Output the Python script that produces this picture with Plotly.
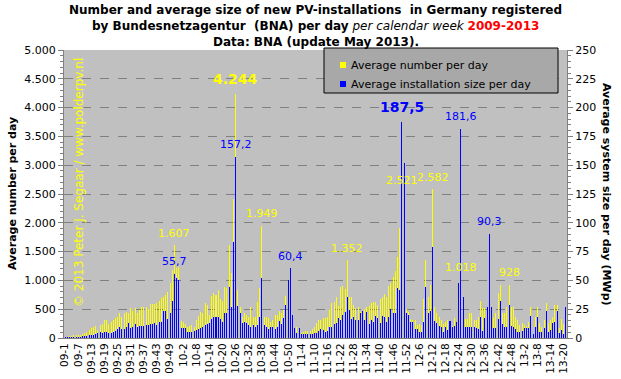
import plotly.graph_objects as go

# ---------------- data ----------------
years = [2009, 2010, 2011, 2012, 2013]
weeks_in_year = [53, 52, 52, 52, 21]
weeks = [f"{str(y)[2:]}-{w}" for y, n in zip(years, weeks_in_year) for w in range(1, n + 1)]
tick_labels = weeks[::6]

# Average number of new installations per day (left axis)
number_2009 = [23, 23, 29, 35, 46, 46, 58, 58, 69, 81,
               110, 139, 168, 197, 214, 139, 226, 243, 312, 312,
               237, 283, 312, 341, 370, 428, 359, 440, 451, 428,
               515, 475, 527, 440, 486, 532, 544, 532, 509, 590,
               590, 590, 602, 648, 689, 718, 746,
               805, 949, 1180, 1607, 1209, 1227]
number_2010 = [289, 278, 243, 197, 214, 226, 197, 312, 382, 457,
               428, 602, 573, 399, 729, 775, 746, 833, 671, 648,
               880, 862, 1615, 1123, 2407, 4244, 833, 544, 370, 428,
               399, 370, 544, 370, 370, 631, 862, 1949, 370, 359,
               341, 284, 312, 399, 399, 475, 440, 486, 729, 900,
               950, 320]
number_2011 = [160, 197, 160, 81, 110, 127, 127, 127, 150, 197,
               255, 312, 312, 347, 341, 359, 486, 602, 631, 706,
               556, 880, 903, 845, 1352,
               718, 706, 573, 515, 532, 457, 440, 498, 544,
               556, 602, 631, 631, 573, 671, 718, 758, 718, 903,
               949, 1065, 1169, 1412, 1904, 2521, 1500, 498]
number_2012 = [457, 324, 312, 312, 226, 243, 226, 677, 1354, 718,
               920, 2582, 544, 428, 370, 312, 243, 283, 312, 260,
               208, 341, 280, 900, 1018, 600, 324, 324, 428, 440,
               312, 312, 370, 648, 515, 527, 450, 700, 450, 341,
               428, 787, 920, 428, 428, 544, 928, 544, 544, 370,
               312, 226]
number_2013 = [255, 226, 197, 278, 532, 50, 370, 532, 255, 197,
               312, 602, 255, 312, 370, 567, 567, 168, 324, 243,
               400]

# Average installed size per day in MWp (right axis)
size_2009 = [0.9, 0.9, 0.9, 0.9, 0.9, 1.2, 1.2, 1.2, 1.4, 1.4,
             2.0, 2.3, 2.6, 2.9, 3.2, 4.1, 4.9, 4.1, 5.2, 5.2,
             4.6, 4.6, 5.2, 6.4, 8.1, 9.8, 7.5, 8.1, 9.8, 12.7,
             8.7, 9.8, 12.2, 9.8, 10.4, 10.4, 10.4, 11.6, 11.6, 12.2,
             12.2, 12.7, 11.0, 13.9, 13.9, 23.7, 23.4,
             16.8, 21.4, 32.4, 55.7, 51.8, 50.4]
size_2010 = [9.0, 9.0, 9.0, 5.5, 5.5, 5.2, 6.4, 7.0, 8.1, 9.0,
             9.8, 11.0, 12.2, 12.7, 16.2, 18.0, 18.5, 18.0, 16.8, 14.2,
             21.4, 22.0, 44.6, 27.0, 83.6, 157.2, 27.8, 21.4, 12.7, 14.2,
             12.7, 11.3, 9.8, 11.3, 9.8, 11.3, 18.5, 51.8, 11.3, 9.8,
             7.5, 9.8, 9.8, 7.5, 9.8, 15.0, 12.2, 17.1, 28.7, 50.4,
             60.4, 20.0]
size_2011 = [8.4, 4.1, 8.4, 3.5, 3.5, 3.5, 3.5, 3.5, 3.5, 4.1,
             4.6, 6.4, 7.5, 6.9, 5.5, 6.4, 9.8, 9.8, 12.2, 13.3,
             17.1, 15.6, 20.0, 22.9, 35.3,
             24.3, 16.2, 17.9, 15.6, 15.6, 22.0, 23.7, 15.6, 22.9,
             12.2, 15.6, 14.2, 19.1, 17.1, 13.3, 19.1, 18.5, 14.2, 18.5,
             24.9, 21.4, 21.4, 43.1, 41.7, 187.5, 152.0, 22.0]
size_2012 = [20.0, 14.2, 14.2, 7.5, 7.5, 5.5, 5.5, 13.9, 44.6, 21.4,
             23.4, 79.3, 14.8, 13.3, 10.4, 9.8, 5.5, 9.8, 6.9, 15.0,
             9.8, 10.4, 14.2, 47.5, 181.6, 35.9, 9.8, 9.8, 9.8, 9.8,
             9.8, 8.4, 7.8, 17.9, 6.4, 17.7, 26.6, 90.3, 26.6, 9.0,
             9.0, 16.8, 32.4, 12.2, 9.3, 9.3, 28.7, 10.4, 9.3, 7.5,
             5.5, 5.5]
size_2013 = [6.1, 8.4, 8.7, 8.4, 19.1, 3.5, 9.8, 18.5, 5.5, 5.2,
             8.4, 23.7, 5.5, 6.9, 13.3, 13.6, 23.7, 4.6, 6.9, 3.5,
             26.6]

avg_number = number_2009 + number_2010 + number_2011 + number_2012 + number_2013
avg_size = size_2009 + size_2010 + size_2011 + size_2012 + size_2013

series_names = ["Average number per day", "Average installation size per day"]

# data labels: (week, series)
label_points = [("09-51", "number"), ("09-51", "size"),
                ("10-26", "number"), ("10-26", "size"),
                ("10-38", "number"), ("10-51", "size"),
                ("11-25", "number"), ("11-50", "size"), ("11-50", "number"),
                ("12-12", "number"), ("12-25", "size"), ("12-25", "number"),
                ("12-38", "size"), ("12-47", "number")]
bold_labels = {("10-26", "number"), ("11-50", "size")}

FONT = "DejaVu Sans"
YEL = "#FFFF00"
BLU = "#0000FF"
# alpha just below 1 makes plotly snap bar edges to whole pixels (crisp 1px bars)
YEL_BAR = "rgba(255,255,0,0.995)"
BLU_BAR = "rgba(0,0,255,0.995)"

# plot-area geometry in pixels (for placing decorations)
FIG_W, FIG_H = 621, 379
L, R, T, B = 64, 54, 50, 41
PW, PH = FIG_W - L - R, FIG_H - T - B


def px(xp):
    return (xp - L) / PW


def py(yp):
    return (FIG_H - B - yp) / PH


fig = go.Figure()
fig.add_trace(go.Bar(x=weeks, y=avg_number, yaxis="y", width=0.46,
                     marker=dict(color=YEL_BAR, line=dict(width=0)),
                     name=series_names[0], showlegend=False))
fig.add_trace(go.Bar(x=weeks, y=avg_size, yaxis="y2", width=0.46,
                     marker=dict(color=BLU_BAR, line=dict(width=0)),
                     name=series_names[1], showlegend=False))

annotations = []
for wk, series in label_points:
    idx = weeks.index(wk)
    bold = (wk, series) in bold_labels
    if series == "number":
        v = avg_number[idx]
        txt = f"{v:,}".replace(",", ".")
        yref, col = "y", YEL
    else:
        v = avg_size[idx]
        txt = f"{v:.1f}".replace(".", ",")
        yref, col = "y2", BLU
    if bold:
        txt = f"<b>{txt}</b>"
    annotations.append(dict(x=wk, y=v, xref="x", yref=yref, text=txt, showarrow=False,
                            yanchor="middle", yshift=15 if bold else 12,
                            font=dict(family=FONT, size=14 if bold else 11, color=col)))

# title lines
title_lines = ["<b>Number and average size of new PV-installations  in Germany registered</b>",
               "<b>by Bundesnetzagentur  (BNA) per day</b> <i>per calendar week</i> "
               "<b><span style='color:red'>2009-2013</span></b>",
               "<b>Data: BNA (update May 2013).</b>"]
for line, yc in zip(title_lines, [10, 26, 42]):
    annotations.append(dict(x=px(315.5), y=py(yc), xref="paper", yref="paper", text=line,
                            showarrow=False, xanchor="center", yanchor="middle",
                            font=dict(family=FONT, size=12, color="black")))

# watermark
annotations.append(dict(x=px(79), y=py(183), xref="paper", yref="paper", textangle=-90,
                        text="© 2013 Peter J. Segaar / www.polderpv.nl", showarrow=False,
                        xanchor="center", yanchor="middle",
                        font=dict(family=FONT, size=12, color=YEL)))
# axis titles
annotations.append(dict(x=px(12), y=0.5, xref="paper", yref="paper", textangle=-90,
                        text="<b>Average number per day</b>", showarrow=False,
                        xanchor="center", yanchor="middle",
                        font=dict(family=FONT, size=11, color="black")))
annotations.append(dict(x=px(607), y=0.5, xref="paper", yref="paper", textangle=90,
                        text="<b>Average system size per day (MWp)</b>", showarrow=False,
                        xanchor="center", yanchor="middle",
                        font=dict(family=FONT, size=11, color="black")))

# legend (drawn manually to match the original box layout)
shapes = [dict(type="rect", xref="paper", yref="paper", x0=px(324), x1=px(558),
               y0=py(93), y1=py(48), fillcolor="#A8A8A8", line=dict(color="black", width=1),
               layer="above")]
for name, col, yc in zip(series_names, [YEL, BLU], [65, 84]):
    shapes.append(dict(type="rect", xref="paper", yref="paper", x0=px(340), x1=px(346),
                       y0=py(yc + 3), y1=py(yc - 3), fillcolor=col, line=dict(width=0),
                       layer="above"))
    annotations.append(dict(x=px(349), y=py(yc), xref="paper", yref="paper", text=name,
                            showarrow=False, xanchor="left", yanchor="middle",
                            font=dict(family=FONT, size=11, color="black")))

fig.update_layout(
    width=FIG_W, height=FIG_H,
    margin=dict(l=L, r=R, t=T, b=B),
    paper_bgcolor="white", plot_bgcolor="#C0C0C0",
    separators=",.",
    font=dict(family=FONT, size=11, color="black"),
    barmode="overlay", bargap=0,
    showlegend=False,
    xaxis=dict(type="category", tickmode="array", tickvals=tick_labels, ticktext=tick_labels,
               tickangle=-90, tickfont=dict(size=10.5), showgrid=False,
               showline=True, linecolor="#808080", ticks="", automargin=False),
    yaxis=dict(range=[0, 5000], dtick=500, tickformat=",d", showgrid=True,
               gridcolor="#808080", griddash="dash", gridwidth=1, zeroline=False,
               showline=True, linecolor="#808080", ticks="outside", ticklen=5,
               tickcolor="#808080", tickfont=dict(size=11), automargin=False,
               minor=dict(dtick=100, ticks="outside", ticklen=3, tickcolor="#808080", showgrid=False)),
    yaxis2=dict(range=[0, 250], dtick=25, overlaying="y", side="right", showgrid=False,
                zeroline=False, showline=True, linecolor="#808080", ticks="outside",
                ticklen=5, tickcolor="#808080", tickfont=dict(size=11), automargin=False,
                minor=dict(dtick=5, ticks="outside", ticklen=3, tickcolor="#808080", showgrid=False)),
    annotations=annotations,
    shapes=shapes,
)

fig.write_html("out.html", config={"displayModeBar": False},
               post_script="document.body.style.margin='0px';document.body.style.overflow='hidden';")
